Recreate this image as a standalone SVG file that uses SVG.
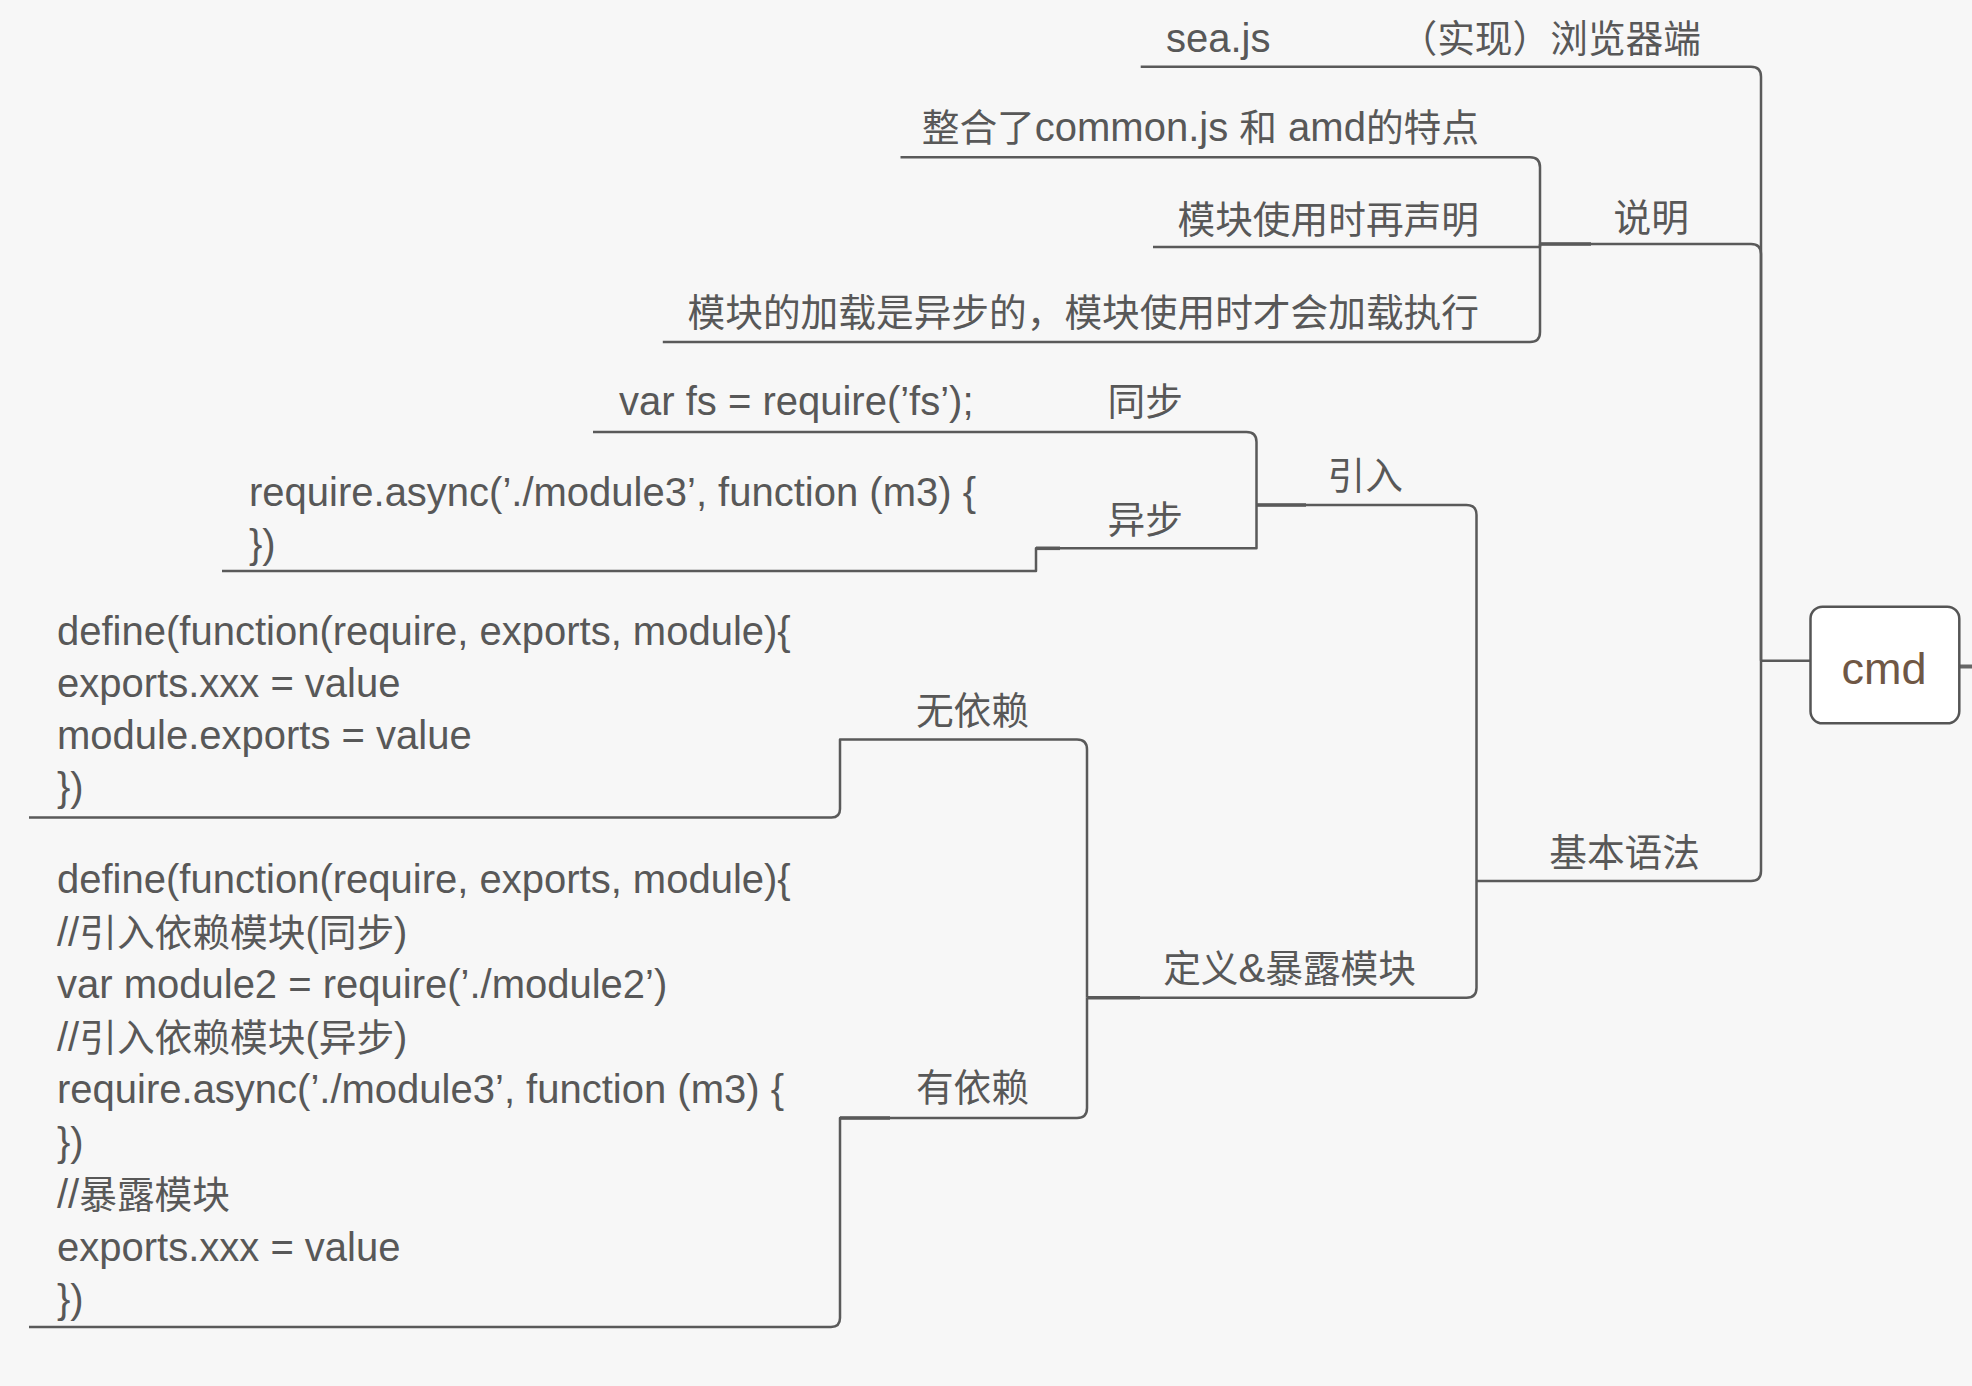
<svg xmlns="http://www.w3.org/2000/svg" width="1972" height="1386" viewBox="0 0 1972 1386">
<style>
.t{font-family:"Liberation Sans","Noto Sans CJK SC",sans-serif;font-size:40px;fill:#585858}
.k{font-family:"Noto Sans CJK SC",sans-serif;font-size:37.7px}
.e{text-anchor:end}
.c{fill:none;stroke:#5a5a5a;stroke-width:2.5;stroke-linejoin:round}
.s{fill:none;stroke:#5a5a5a;stroke-width:3.6}
</style>
<rect width="1972" height="1386" fill="#f7f7f7"/>
<g id="connectors">
<path class="c" d="M1761,660.7 H1810"/>
<path class="c" d="M1761,660.7 V76.7 Q1761,66.7 1751,66.7 H1140.7"/>
<path class="c" d="M1761,660.7 V254 Q1761,244 1751,244 H1540"/>
<path class="c" d="M1761,660.7 V871 Q1761,881 1751,881 H1476.5"/>
<path class="c" d="M1540,244 V167.2 Q1540,157.2 1530,157.2 H900.5"/>
<path class="c" d="M1540,244 V247 H1153"/>
<path class="c" d="M1540,244 V332 Q1540,342 1530,342 H662.8"/>
<path class="c" d="M1476.5,881 V515 Q1476.5,505 1466.5,505 H1256.5"/>
<path class="c" d="M1476.5,881 V987.7 Q1476.5,997.7 1466.5,997.7 H1087"/>
<path class="c" d="M1256.5,505 V442 Q1256.5,432 1246.5,432 H593"/>
<path class="c" d="M1256.5,505 V548.3 H1036 V571 H222"/>
<path class="c" d="M1087,997.7 V749.5 Q1087,739.5 1077,739.5 H840 V809 Q840,817.5 831.5,817.5 H29"/>
<path class="c" d="M1087,997.7 V1108 Q1087,1118 1077,1118 H840 V1318 Q840,1327 831,1327 H29"/>
<path class="s" d="M1540,244 H1591"/>
<path class="s" d="M1256.5,505 H1306"/>
<path class="s" d="M1087,997.7 H1140"/>
<path class="s" d="M1036,548.3 H1060"/>
<path class="s" d="M840,1118 H890"/>
<path d="M1959,666.5 H1972" stroke="#666" stroke-width="4"/>
</g>
<g id="cmd">
<rect x="1810.5" y="606.7" width="148.8" height="116.6" rx="12" ry="12" fill="#ffffff" stroke="#555" stroke-width="2.5"/>
<text x="1884" y="684" font-family="Liberation Sans, sans-serif" font-size="45" fill="#6f5745" text-anchor="middle">cmd</text>
</g>
<g id="impl">
<text class="t k e" x="1701" y="52">（实现）浏览器端</text>
</g>
<g id="seajs">
<text class="t" x="1166" y="52">sea.js</text>
</g>
<g id="desc">
<text class="t k e" x="1689" y="231">说明</text>
</g>
<g id="desc1">
<text class="t e" x="1479" y="141"><tspan class="k">整合了</tspan>common.js <tspan class="k">和</tspan> amd<tspan class="k">的特点</tspan></text>
</g>
<g id="desc2">
<text class="t k e" x="1479" y="233">模块使用时再声明</text>
</g>
<g id="desc3">
<text class="t k e" x="1479" y="326">模块的加载是异步的，模块使用时才会加载执行</text>
</g>
<g id="syntax">
<text class="t k e" x="1700" y="866">基本语法</text>
</g>
<g id="import">
<text class="t k e" x="1403" y="489">引入</text>
</g>
<g id="sync">
<text class="t k e" x="1183" y="415">同步</text>
</g>
<g id="sync-code">
<text class="t" x="619" y="415">var fs = require(’fs’);</text>
</g>
<g id="async">
<text class="t k e" x="1183" y="533">异步</text>
</g>
<g id="async-code">
<text class="t" x="249" y="506">require.async(’./module3’, function (m3) {</text>
<text class="t" x="249" y="558">})</text>
</g>
<g id="define">
<text class="t e" x="1416" y="982"><tspan class="k">定义</tspan>&amp;<tspan class="k">暴露模块</tspan></text>
</g>
<g id="nodep">
<text class="t k e" x="1029" y="724">无依赖</text>
</g>
<g id="nodep-code">
<text class="t" x="57" y="645">define(function(require, exports, module){</text>
<text class="t" x="57" y="697">exports.xxx = value</text>
<text class="t" x="57" y="749">module.exports = value</text>
<text class="t" x="57" y="801">})</text>
</g>
<g id="dep">
<text class="t k e" x="1029" y="1101">有依赖</text>
</g>
<g id="dep-code">
<text class="t" x="57" y="893">define(function(require, exports, module){</text>
<text class="t" x="57" y="945.5">//<tspan class="k">引入依赖模块</tspan>(<tspan class="k">同步</tspan>)</text>
<text class="t" x="57" y="998">var module2 = require(’./module2’)</text>
<text class="t" x="57" y="1050.5">//<tspan class="k">引入依赖模块</tspan>(<tspan class="k">异步</tspan>)</text>
<text class="t" x="57" y="1103">require.async(’./module3’, function (m3) {</text>
<text class="t" x="57" y="1155.5">})</text>
<text class="t" x="57" y="1208">//<tspan class="k">暴露模块</tspan></text>
<text class="t" x="57" y="1260.5">exports.xxx = value</text>
<text class="t" x="57" y="1313">})</text>
</g>
</svg>
